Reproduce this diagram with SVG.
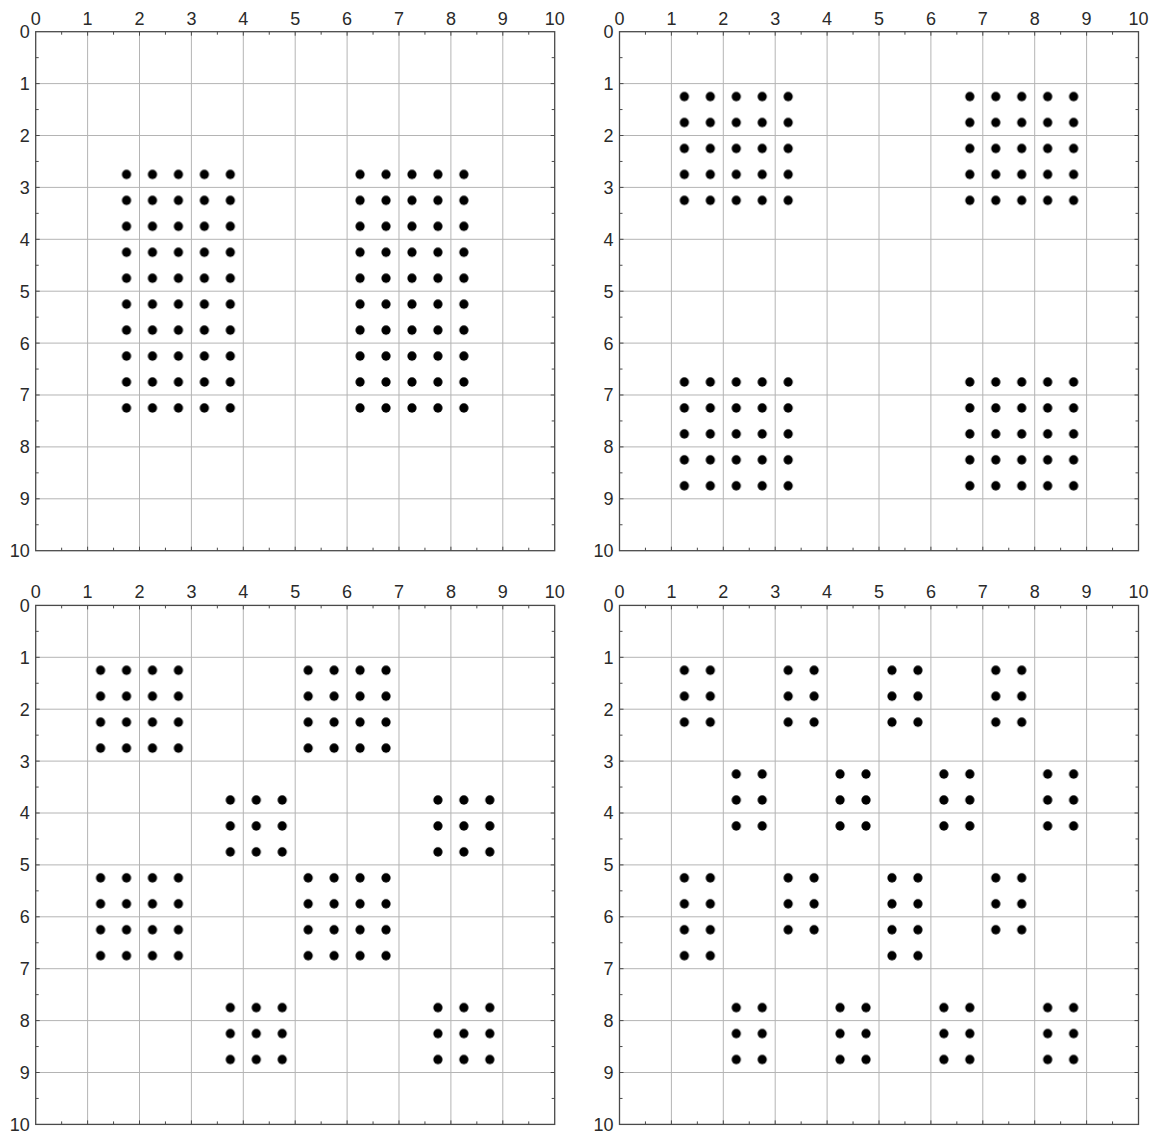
<svg xmlns="http://www.w3.org/2000/svg" xmlns:xlink="http://www.w3.org/1999/xlink" width="1151" height="1133" viewBox="0 0 1151 1133">
<style>
.grid{fill:none;stroke:#b4b4b4;stroke-width:1}
.frame{fill:none;stroke:#4a4a4a;stroke-width:1.3}
.tick{fill:none;stroke:#4a4a4a;stroke-width:1}
text{font-family:"Liberation Sans",Arial,sans-serif;font-size:18px;fill:#2a2a2a}
.xl text{text-anchor:middle}
.yl text{text-anchor:end}
</style>
<defs>
<pattern id="dots" patternUnits="userSpaceOnUse" x="0" y="0" width="0.5" height="0.5">
<circle cx="0.25" cy="0.25" r="0.089" fill="#000"/>
</pattern>
<g id="axes">
<path class="grid" d="M51.9,0V519M103.8,0V519M155.7,0V519M207.6,0V519M259.5,0V519M311.4,0V519M363.3,0V519M415.2,0V519M467.1,0V519M0,51.9H519M0,103.8H519M0,155.7H519M0,207.6H519M0,259.5H519M0,311.4H519M0,363.3H519M0,415.2H519M0,467.1H519"/>
<path class="tick" d="M25.95,0v3M77.85,0v3M129.75,0v3M181.65,0v3M233.55,0v3M285.45,0v3M337.35,0v3M389.25,0v3M441.15,0v3M493.05,0v3M25.95,519v-3M77.85,519v-3M129.75,519v-3M181.65,519v-3M233.55,519v-3M285.45,519v-3M337.35,519v-3M389.25,519v-3M441.15,519v-3M493.05,519v-3M0,25.95h3M0,77.85h3M0,129.75h3M0,181.65h3M0,233.55h3M0,285.45h3M0,337.35h3M0,389.25h3M0,441.15h3M0,493.05h3M519,25.95h-3M519,77.85h-3M519,129.75h-3M519,181.65h-3M519,233.55h-3M519,285.45h-3M519,337.35h-3M519,389.25h-3M519,441.15h-3M519,493.05h-3M51.9,0v4M103.8,0v4M155.7,0v4M207.6,0v4M259.5,0v4M311.4,0v4M363.3,0v4M415.2,0v4M467.1,0v4M51.9,519v-4M103.8,519v-4M155.7,519v-4M207.6,519v-4M259.5,519v-4M311.4,519v-4M363.3,519v-4M415.2,519v-4M467.1,519v-4M0,51.9h4M0,103.8h4M0,155.7h4M0,207.6h4M0,259.5h4M0,311.4h4M0,363.3h4M0,415.2h4M0,467.1h4M519,51.9h-4M519,103.8h-4M519,155.7h-4M519,207.6h-4M519,259.5h-4M519,311.4h-4M519,363.3h-4M519,415.2h-4M519,467.1h-4"/>
<rect class="frame" x="0" y="0" width="519" height="519"/>
</g>
</defs>

<g id="panel-top-left" transform="translate(35.7,31.7)">
<use xlink:href="#axes" href="#axes"/>
<g class="xl"><text x="0" y="-7">0</text><text x="51.9" y="-7">1</text><text x="103.8" y="-7">2</text><text x="155.7" y="-7">3</text><text x="207.6" y="-7">4</text><text x="259.5" y="-7">5</text><text x="311.4" y="-7">6</text><text x="363.3" y="-7">7</text><text x="415.2" y="-7">8</text><text x="467.1" y="-7">9</text><text x="519" y="-7">10</text></g>
<g class="yl"><text x="-6" y="6.5">0</text><text x="-6" y="58.4">1</text><text x="-6" y="110.3">2</text><text x="-6" y="162.2">3</text><text x="-6" y="214.1">4</text><text x="-6" y="266">5</text><text x="-6" y="317.9">6</text><text x="-6" y="369.8">7</text><text x="-6" y="421.7">8</text><text x="-6" y="473.6">9</text><text x="-6" y="525.5">10</text></g>
<g id="dots-top-left" transform="scale(51.9)" fill="url(#dots)">
<rect x="1.5" y="2.5" width="2.5" height="5"/>
<rect x="6" y="2.5" width="2.5" height="5"/>
</g>
</g>

<g id="panel-top-right" transform="translate(619.5,31.7)">
<use xlink:href="#axes" href="#axes"/>
<g class="xl"><text x="0" y="-7">0</text><text x="51.9" y="-7">1</text><text x="103.8" y="-7">2</text><text x="155.7" y="-7">3</text><text x="207.6" y="-7">4</text><text x="259.5" y="-7">5</text><text x="311.4" y="-7">6</text><text x="363.3" y="-7">7</text><text x="415.2" y="-7">8</text><text x="467.1" y="-7">9</text><text x="519" y="-7">10</text></g>
<g class="yl"><text x="-6" y="6.5">0</text><text x="-6" y="58.4">1</text><text x="-6" y="110.3">2</text><text x="-6" y="162.2">3</text><text x="-6" y="214.1">4</text><text x="-6" y="266">5</text><text x="-6" y="317.9">6</text><text x="-6" y="369.8">7</text><text x="-6" y="421.7">8</text><text x="-6" y="473.6">9</text><text x="-6" y="525.5">10</text></g>
<g id="dots-top-right" transform="scale(51.9)" fill="url(#dots)">
<rect x="1" y="1" width="2.5" height="2.5"/>
<rect x="6.5" y="1" width="2.5" height="2.5"/>
<rect x="1" y="6.5" width="2.5" height="2.5"/>
<rect x="6.5" y="6.5" width="2.5" height="2.5"/>
</g>
</g>

<g id="panel-bottom-left" transform="translate(35.7,605.4)">
<use xlink:href="#axes" href="#axes"/>
<g class="xl"><text x="0" y="-7">0</text><text x="51.9" y="-7">1</text><text x="103.8" y="-7">2</text><text x="155.7" y="-7">3</text><text x="207.6" y="-7">4</text><text x="259.5" y="-7">5</text><text x="311.4" y="-7">6</text><text x="363.3" y="-7">7</text><text x="415.2" y="-7">8</text><text x="467.1" y="-7">9</text><text x="519" y="-7">10</text></g>
<g class="yl"><text x="-6" y="6.5">0</text><text x="-6" y="58.4">1</text><text x="-6" y="110.3">2</text><text x="-6" y="162.2">3</text><text x="-6" y="214.1">4</text><text x="-6" y="266">5</text><text x="-6" y="317.9">6</text><text x="-6" y="369.8">7</text><text x="-6" y="421.7">8</text><text x="-6" y="473.6">9</text><text x="-6" y="525.5">10</text></g>
<g id="dots-bottom-left" transform="scale(51.9)" fill="url(#dots)">
<rect x="1" y="1" width="2" height="2"/>
<rect x="5" y="1" width="2" height="2"/>
<rect x="1" y="5" width="2" height="2"/>
<rect x="5" y="5" width="2" height="2"/>
<rect x="3.5" y="3.5" width="1.5" height="1.5"/>
<rect x="7.5" y="3.5" width="1.5" height="1.5"/>
<rect x="3.5" y="7.5" width="1.5" height="1.5"/>
<rect x="7.5" y="7.5" width="1.5" height="1.5"/>
</g>
</g>

<g id="panel-bottom-right" transform="translate(619.5,605.4)">
<use xlink:href="#axes" href="#axes"/>
<g class="xl"><text x="0" y="-7">0</text><text x="51.9" y="-7">1</text><text x="103.8" y="-7">2</text><text x="155.7" y="-7">3</text><text x="207.6" y="-7">4</text><text x="259.5" y="-7">5</text><text x="311.4" y="-7">6</text><text x="363.3" y="-7">7</text><text x="415.2" y="-7">8</text><text x="467.1" y="-7">9</text><text x="519" y="-7">10</text></g>
<g class="yl"><text x="-6" y="6.5">0</text><text x="-6" y="58.4">1</text><text x="-6" y="110.3">2</text><text x="-6" y="162.2">3</text><text x="-6" y="214.1">4</text><text x="-6" y="266">5</text><text x="-6" y="317.9">6</text><text x="-6" y="369.8">7</text><text x="-6" y="421.7">8</text><text x="-6" y="473.6">9</text><text x="-6" y="525.5">10</text></g>
<g id="dots-bottom-right" transform="scale(51.9)" fill="url(#dots)">
<rect x="1" y="1" width="1" height="1.5"/>
<rect x="3" y="1" width="1" height="1.5"/>
<rect x="5" y="1" width="1" height="1.5"/>
<rect x="7" y="1" width="1" height="1.5"/>
<rect x="2" y="3" width="1" height="1.5"/>
<rect x="4" y="3" width="1" height="1.5"/>
<rect x="6" y="3" width="1" height="1.5"/>
<rect x="8" y="3" width="1" height="1.5"/>
<rect x="1" y="5" width="1" height="2"/>
<rect x="3" y="5" width="1" height="1.5"/>
<rect x="5" y="5" width="1" height="2"/>
<rect x="7" y="5" width="1" height="1.5"/>
<rect x="2" y="7.5" width="1" height="1.5"/>
<rect x="4" y="7.5" width="1" height="1.5"/>
<rect x="6" y="7.5" width="1" height="1.5"/>
<rect x="8" y="7.5" width="1" height="1.5"/>
</g>
</g>
</svg>
